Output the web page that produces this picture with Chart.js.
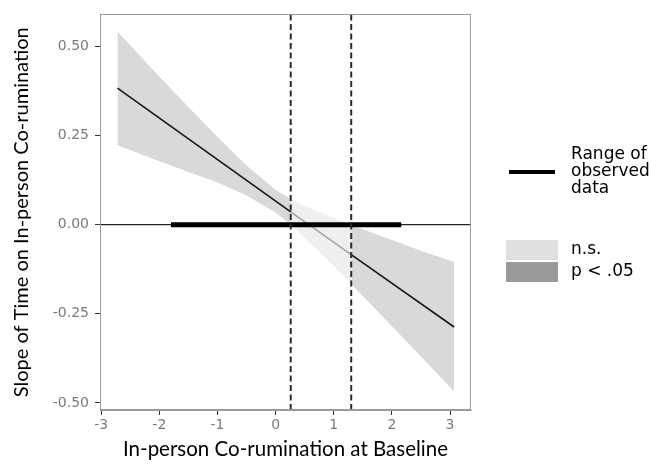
<!DOCTYPE html>
<html><head><meta charset="utf-8">
<script src="https://cdn.jsdelivr.net/npm/chart.js@4/dist/chart.umd.min.js"></script>
<style>html,body{margin:0;padding:0;background:#fff;} #wrap{width:651px;height:464px;position:relative;}</style>
</head><body><div id="wrap"><canvas id="c" width="651" height="464"></canvas></div>
<script>
// ---- data ----
const xTicks = [-3, -2, -1, 0, 1, 2, 3];
const yTicks = [-0.5, -0.25, 0, 0.25, 0.5];
const bandX     = [-2.72, -2, -1.5, -1, -0.5, 0, 0.26, 0.5, 1, 1.30, 1.5, 2, 2.5, 3.07];
const bandUpper = [0.542, 0.416, 0.330, 0.246, 0.166, 0.098, 0.072, 0.053, 0.018, 0.000, -0.013, -0.043, -0.073, -0.105];
const bandLower = [0.223, 0.178, 0.148, 0.118, 0.082, 0.034, 0.000, -0.036, -0.116, -0.167, -0.200, -0.285, -0.370, -0.468];
const lineX = [-2.72, 0.26, 1.30, 3.07];
const lineY = [0.383, 0.036, -0.084, -0.287];
const jnPoints = [0.26, 1.30];
const observedRange = [-1.80, 2.16];
const legendFillLabels = ['n.s.', 'p < .05'];
const legendLineLabel = ['Range of', 'observed', 'data'];
const xTitle = 'In-person Co-rumination at Baseline';
const yTitle = 'Slope of Time on In-person Co-rumination';
const xLimits = [-3.02, 3.36];
const yLimits = [-0.52, 0.59];

// ---- styles ----
const SIG = '#d9d9d9', NS = '#efefef';
const NONE = 'rgba(0,0,0,0)';

function pts(xs, ys, lo, hi) {
  const out = [];
  xs.forEach((x, i) => { if (x >= lo - 1e-9 && x <= hi + 1e-9) out.push({x: x, y: ys[i]}); });
  return out;
}
const regions = [
  [bandX[0], jnPoints[0], SIG, '#1a1a1a'],
  [jnPoints[0], jnPoints[1], NS, '#a6a6a6'],
  [jnPoints[1], bandX[bandX.length - 1], SIG, '#1a1a1a']
];
const base = {showLine: true, pointRadius: 0, pointHoverRadius: 0, tension: 0};
const datasets = [];
regions.forEach(r => {
  datasets.push(Object.assign({}, base, {data: pts(bandX, bandUpper, r[0], r[1]), fill: '+1', backgroundColor: r[2], borderColor: NONE, borderWidth: 1, order: 10}));
  datasets.push(Object.assign({}, base, {data: pts(bandX, bandLower, r[0], r[1]), fill: false, borderColor: NONE, borderWidth: 1, order: 10}));
});
regions.forEach(r => {
  datasets.push(Object.assign({}, base, {data: pts(lineX, lineY, r[0], r[1]), fill: false, borderColor: r[3], borderWidth: 1.7, order: 6}));
});
datasets.push(Object.assign({}, base, {data: [{x: xLimits[0], y: 0}, {x: xLimits[1], y: 0}], fill: false, borderColor: '#222', borderWidth: 1.2, order: 5}));
datasets.push(Object.assign({}, base, {data: observedRange.map(x => ({x: x, y: 0})), fill: false, borderColor: '#000', borderWidth: 5, borderCapStyle: 'butt', order: 4}));
jnPoints.forEach(x => {
  datasets.push(Object.assign({}, base, {data: [{x: x, y: yLimits[0]}, {x: x, y: yLimits[1]}], fill: false, borderColor: '#2b2b2b', borderWidth: 2, borderDash: [6, 3.5], order: 3}));
});

const panelAndLegend = {
  id: 'panelAndLegend',
  afterDraw(chart) {
    const ctx = chart.ctx, a = chart.chartArea;
    ctx.save();
    ctx.strokeStyle = '#9a9a9a';
    ctx.lineWidth = 1;
    ctx.strokeRect(Math.round(a.left) + 0.5, Math.round(a.top) + 0.5, Math.round(a.right - a.left) - 1, Math.round(a.bottom - a.top) - 1);
    // legend: range line
    ctx.strokeStyle = '#000';
    ctx.lineWidth = 4;
    ctx.beginPath(); ctx.moveTo(509, 172); ctx.lineTo(555, 172); ctx.stroke();
    ctx.fillStyle = '#000';
    ctx.font = '17px "DejaVu Sans"';
    ctx.textBaseline = 'middle';
    ctx.textAlign = 'left';
    legendLineLabel.forEach((t, i) => ctx.fillText(t, 571, 155 + i * 17));
    // legend: fills
    const fills = ['#e0e0e0', '#9a9a9a'];
    const ys = [240, 262];
    legendFillLabels.forEach((t, i) => {
      ctx.fillStyle = fills[i];
      ctx.fillRect(506, ys[i], 52, 20);
      ctx.fillStyle = '#000';
      ctx.fillText(t, 571, ys[i] + 10);
    });
    ctx.restore();
  }
};

new Chart(document.getElementById('c'), {
  type: 'scatter',
  data: {datasets: datasets},
  options: {
    responsive: false,
    animation: false,
    events: [],
    layout: {padding: {left: 0, right: 180, top: 12, bottom: 0}},
    plugins: {legend: {display: false}, tooltip: {enabled: false}},
    scales: {
      x: {
        type: 'linear', min: xLimits[0], max: xLimits[1],
        afterFit(s) { s.height = 54; },
        afterBuildTicks(s) { s.ticks = xTicks.map(v => ({value: v})); },
        grid: {drawOnChartArea: false, drawTicks: true, tickLength: 5, color: '#333'},
        border: {display: true, color: '#9a9a9a'},
        ticks: {color: '#7a7a7a', font: {family: 'DejaVu Sans', size: 14}, padding: 2, callback: v => String(v)},
        title: {display: true, text: xTitle, color: '#000', font: {family: 'Lato', size: 20.5}, padding: {top: 0, bottom: 2}}
      },
      y: {
        type: 'linear', min: yLimits[0], max: yLimits[1],
        afterFit(s) { s.width = 100; },
        afterBuildTicks(s) { s.ticks = yTicks.map(v => ({value: v})); },
        grid: {drawOnChartArea: false, drawTicks: true, tickLength: 5, color: '#333'},
        border: {display: true, color: '#9a9a9a'},
        ticks: {color: '#7a7a7a', font: {family: 'DejaVu Sans', size: 14}, padding: 6, callback: v => v.toFixed(2)},
        title: {display: true, text: yTitle, color: '#000', font: {family: 'Lato', size: 20}, padding: {top: 10, bottom: 0}}
      }
    }
  },
  plugins: [panelAndLegend]
});
</script>
</body></html>
